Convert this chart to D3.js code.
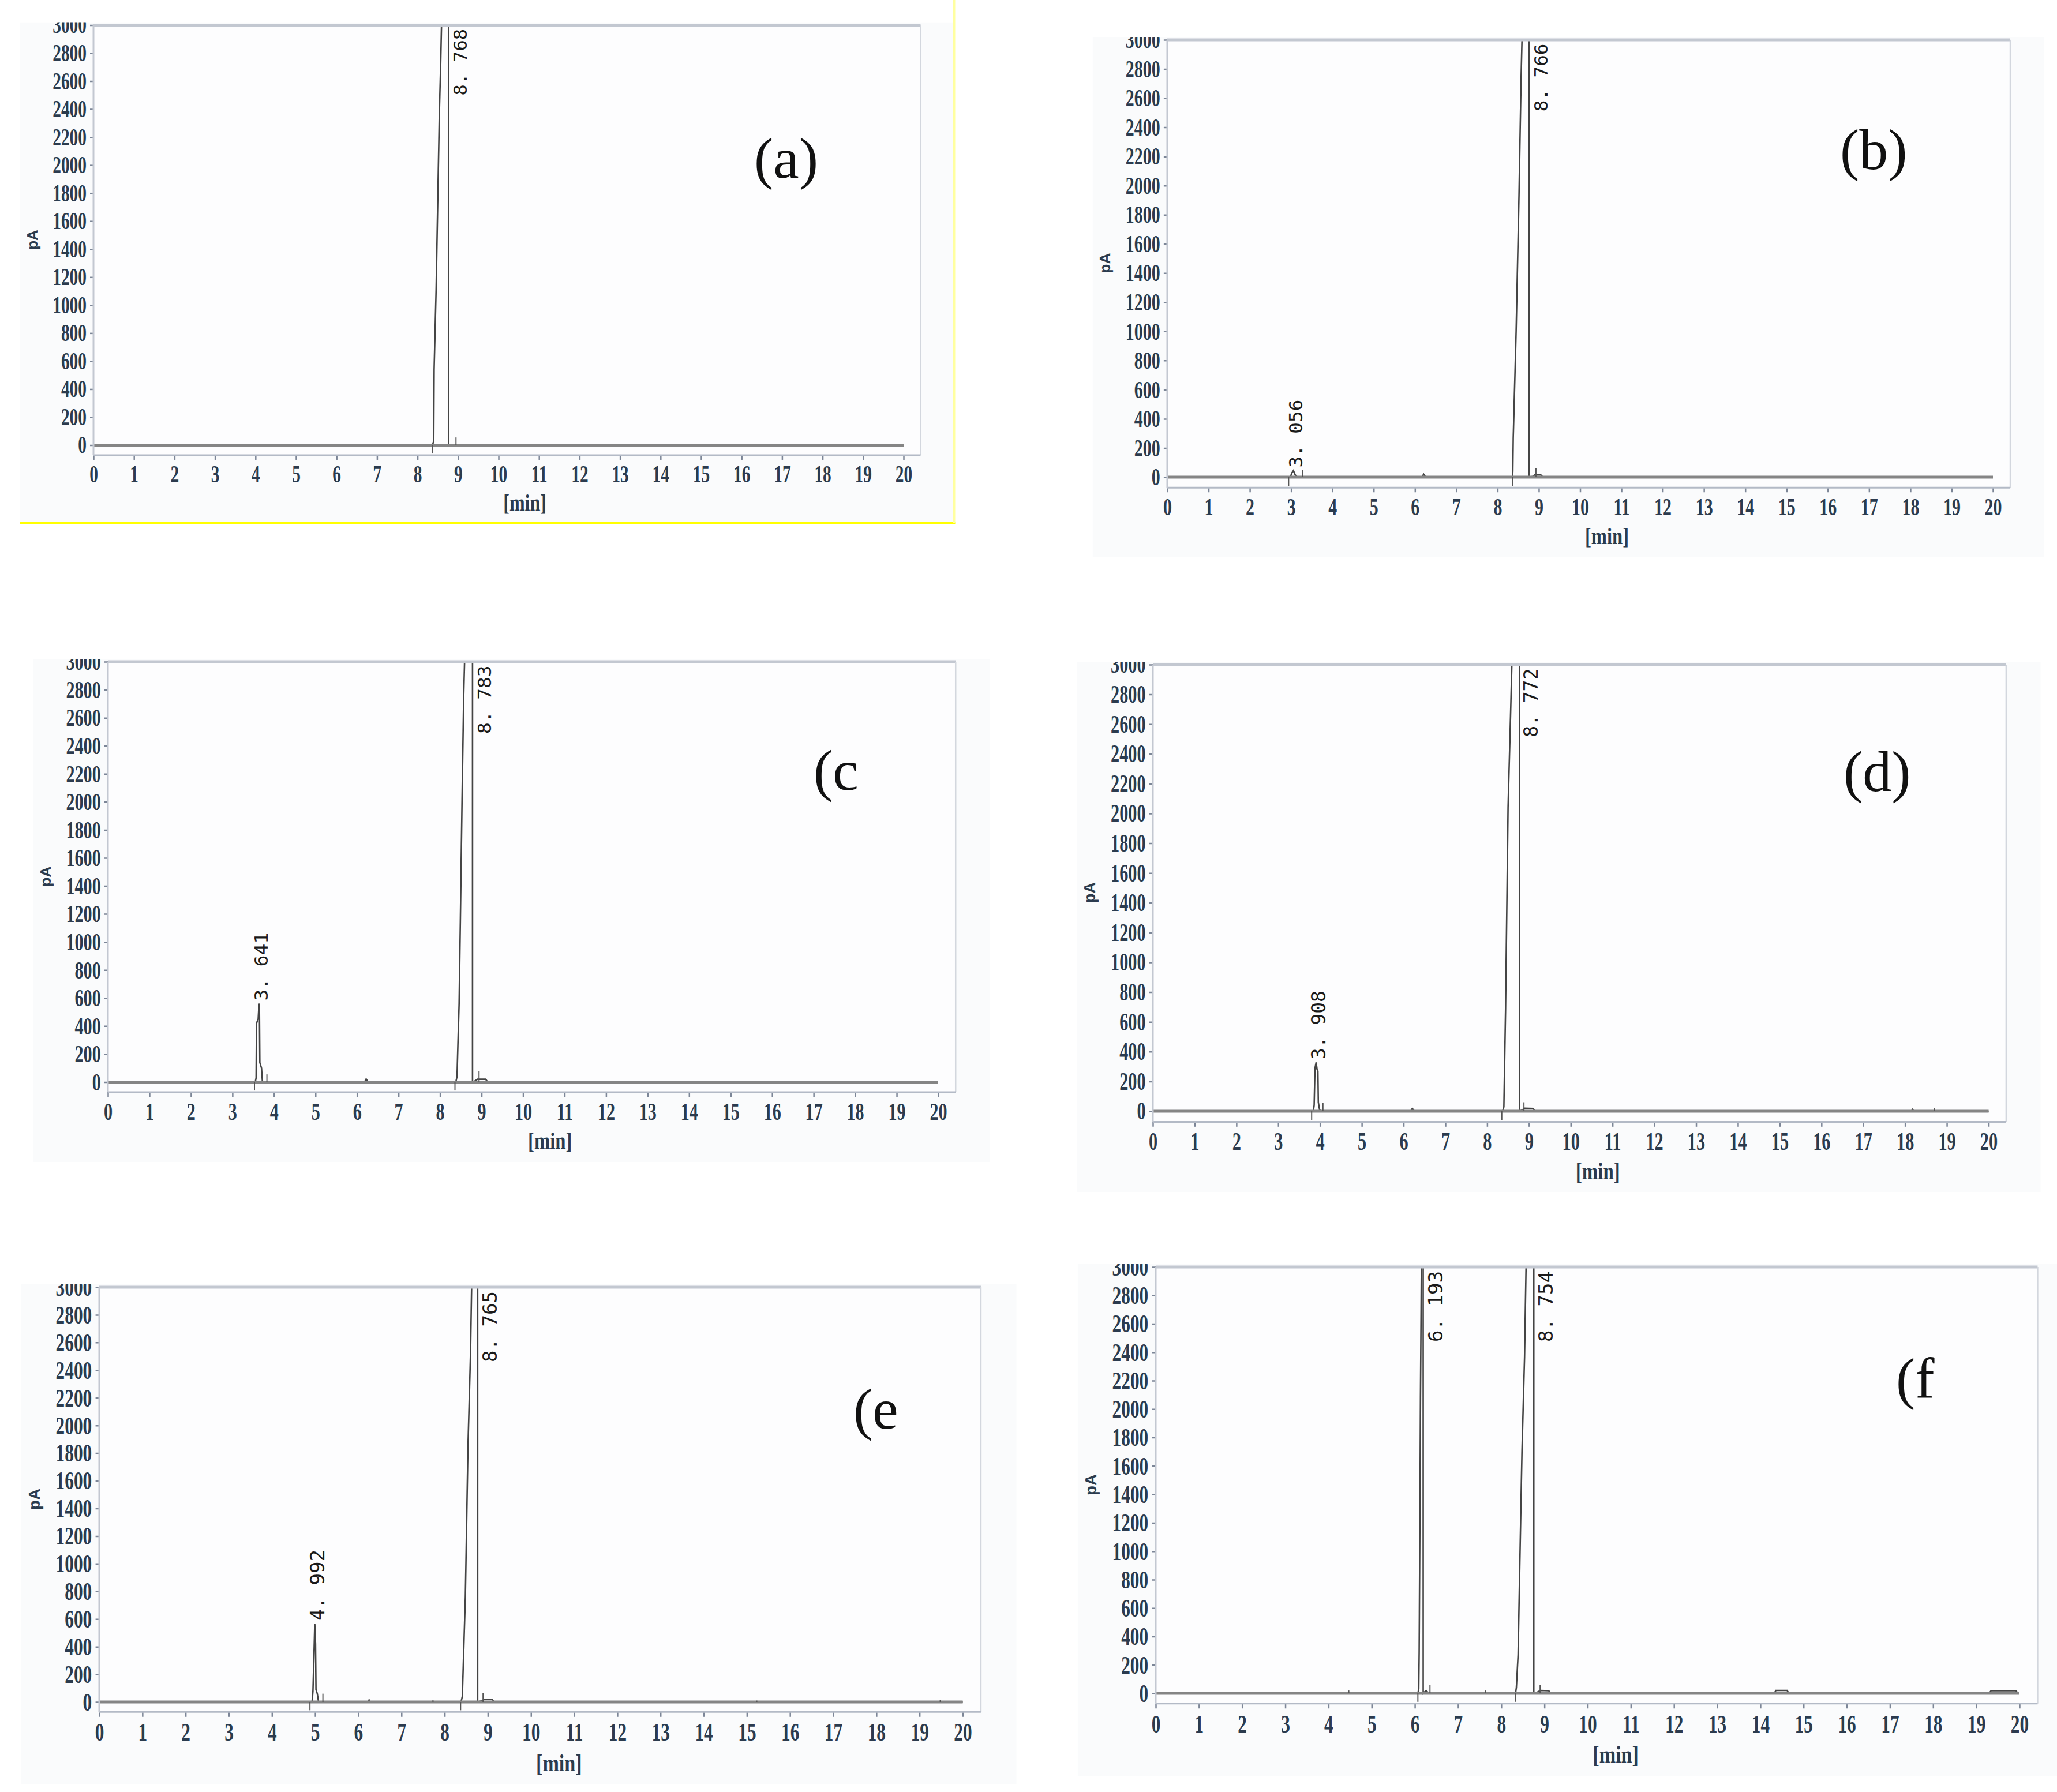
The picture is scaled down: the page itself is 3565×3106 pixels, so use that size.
<!DOCTYPE html>
<html>
<head>
<meta charset="utf-8">
<script src="https://cdn.jsdelivr.net/npm/d3@7/dist/d3.min.js"></script>
<style>
  body { margin: 0; background: #fff; }
</style>
</head>
<body>
<div id="chart"></div>
<script>
// tick labels
var minutes = [0, 1, 2, 3, 4, 5, 6, 7, 8, 9, 10, 11, 12, 13, 14, 15, 16, 17, 18, 19, 20];
var pAticks = [0, 200, 400, 600, 800, 1000, 1200, 1400, 1600, 1800, 2000, 2200, 2400, 2600, 2800, 3000];
var panelNames = ["(a)", "(b)", "(c", "(d)", "(e", "(f"];

// chromatogram traces, [time (min), signal (pA)] -- 3400 means off scale
var traceA = [[0, 0], [8.37, 0], [8.40, 30], [8.41, 540], [8.46, 1120], [8.50, 1750], [8.54, 2380], [8.57, 2700],
  [8.60, 3100], [8.62, 3400], [8.768, 3400], [8.768, 0], [20, 0]];
var traceB = [[0, 0], [2.98, 0], [3.02, 30], [3.056, 45], [3.10, 15], [3.15, 0], [6.17, 0], [6.21, 20], [6.26, 0],
  [8.36, 0], [8.37, 40], [8.38, 268], [8.45, 1000], [8.52, 1937], [8.57, 2729], [8.60, 3100], [8.62, 3400],
  [8.766, 3400], [8.766, 0], [8.85, 5], [8.90, 15], [9.05, 15], [9.10, 0], [20, 0]];
var traceC = [[0, 0], [3.55, 0], [3.57, 30], [3.58, 420], [3.62, 450], [3.641, 560], [3.65, 540], [3.66, 140],
  [3.70, 100], [3.72, 10], [3.75, 0], [6.18, 0], [6.22, 22], [6.27, 0], [8.38, 0], [8.41, 40], [8.43, 260],
  [8.46, 560], [8.49, 1150], [8.53, 2000], [8.57, 2750], [8.60, 3100], [8.63, 3400], [8.783, 3400], [8.783, 0],
  [8.85, 10], [8.90, 20], [9.10, 20], [9.15, 0], [20, 0]];
var traceD = [[0, 0], [3.84, 0], [3.86, 40], [3.88, 290], [3.908, 328], [3.93, 280], [3.95, 270], [3.96, 60],
  [3.99, 10], [4.02, 0], [6.17, 0], [6.21, 18], [6.26, 0], [8.37, 0], [8.40, 30], [8.44, 680], [8.50, 2040],
  [8.56, 2660], [8.60, 3100], [8.63, 3400], [8.772, 3400], [8.772, 0], [8.85, 10], [8.90, 20], [9.10, 18],
  [9.15, 0], [18.15, 0], [18.18, 12], [18.21, 0], [20, 0]];
var traceE = [[0, 0], [4.93, 0], [4.95, 80], [4.97, 300], [4.992, 566], [5.01, 420], [5.02, 90], [5.05, 60],
  [5.08, 0], [6.22, 0], [6.25, 15], [6.28, 0], [8.38, 0], [8.41, 40], [8.48, 760], [8.54, 1840], [8.60, 2530],
  [8.63, 3100], [8.65, 3400], [8.765, 3400], [8.765, 0], [8.88, 10], [8.92, 20], [9.10, 20], [9.15, 0], [20, 0]];
var traceF = [[0, 0], [6.07, 0], [6.09, 30], [6.10, 300], [6.12, 1420], [6.13, 2080], [6.16, 3400], [6.193, 3400],
  [6.193, 0], [6.26, 20], [6.32, 0], [8.33, 0], [8.35, 40], [8.39, 270], [8.48, 1700], [8.54, 2370], [8.58, 3100],
  [8.60, 3400], [8.754, 3400], [8.754, 0], [8.85, 10], [8.90, 20], [9.10, 18], [9.15, 0], [14.32, 0], [14.36, 20],
  [14.62, 20], [14.66, 0], [19.30, 0], [19.34, 18], [19.92, 18], [19.96, 0], [20, 0]];
var traces = [traceA, traceB, traceC, traceD, traceE, traceF];

// labelled peaks, [retention time, apex pA]
var peaks = [
  [[8.768, 3400]],
  [[3.056, 45], [8.766, 3400]],
  [[3.641, 560], [8.783, 3400]],
  [[3.908, 328], [8.772, 3400]],
  [[4.992, 566], [8.765, 3400]],
  [[6.193, 3400], [8.754, 3400]]
];

// integration marks: start (below baseline) and end [time, pA]
var startMarks = [[8.37], [2.94, 8.36], [3.53, 8.36], [3.80, 8.35], [4.88, 8.37], [6.07, 8.33]];
var endMarks = [
  [[8.95, 55]],
  [[3.28, 50], [8.93, 60]],
  [[3.83, 55], [8.94, 80]],
  [[4.07, 55], [8.88, 60], [18.7, 20]],
  [[5.18, 60], [8.89, 66], [7.73, 12], [15.23, 10], [19.48, 12]],
  [[6.35, 60], [8.90, 60], [4.47, 20], [7.63, 20]]
];

var W = 3565, H = 3106;
var xMax = 20.42, yMin = -72;

// where each screenshot sits on the page
var layout = [
  {left: 162, top: 43.5, x20: 1566, y0: 771.5, lab: [1307, 308]},
  {left: 2023, top: 69, x20: 3454, y0: 827, lab: [3189, 293]},
  {left: 187, top: 1147, x20: 1626, y0: 1875.5, lab: [1410, 1369]},
  {left: 1998, top: 1152, x20: 3446.5, y0: 1926, lab: [3195, 1371]},
  {left: 172, top: 2231, x20: 1668.5, y0: 2950, lab: [1479, 2476]},
  {left: 2003, top: 2196, x20: 3500, y0: 2935, lab: [3286, 2423]}
];

var tickColor = "#2b3b4e";
var fmt = d3.format(".3f");

var svg = d3.select("#chart").append("svg")
  .attr("width", W)
  .attr("height", H)
  .style("background", "#fff");

var defs = svg.append("defs");

layout.forEach(function(L, i) {
  var k = (L.x20 - L.left) / 1404;
  var x = d3.scaleLinear().domain([0, 20]).range([L.left, L.x20]);
  var y = d3.scaleLinear().domain([0, 3000]).range([L.y0, L.top]);
  var right = x(xMax), bottom = y(yMin);

  var bx0 = L.left - 127 * k, by0 = L.top - 5, bx1 = right + 58 * k, by1 = bottom + 118 * k;

  defs.append("clipPath").attr("id", "panel" + i).append("rect")
    .attr("x", bx0).attr("y", by0).attr("width", bx1 - bx0).attr("height", by1 - by0);
  defs.append("clipPath").attr("id", "plot" + i).append("rect")
    .attr("x", L.left).attr("y", y(3000)).attr("width", right - L.left).attr("height", bottom - y(3000));

  var g = svg.append("g").attr("clip-path", "url(#panel" + i + ")");

  // screenshot background
  g.append("rect")
    .attr("x", bx0).attr("y", by0)
    .attr("width", bx1 - bx0).attr("height", by1 - by0)
    .attr("fill", "#fafbfc");
  g.append("rect")
    .attr("x", L.left).attr("y", y(3000))
    .attr("width", right - L.left).attr("height", bottom - y(3000))
    .attr("fill", "#fdfdfe");

  // axes
  var xAxis = d3.axisBottom(x).tickValues(minutes).tickFormat(d3.format("d"))
    .tickSize(8 * k).tickPadding(9 * k).tickSizeOuter(0);
  var yAxis = d3.axisLeft(y).tickValues(pAticks).tickFormat(d3.format("d"))
    .tickSize(6 * k).tickPadding(6 * k).tickSizeOuter(0);

  var gx = g.append("g").attr("transform", "translate(0," + bottom + ")").call(xAxis);
  var gy = g.append("g").attr("transform", "translate(" + L.left + ",0)").call(yAxis);
  [gx, gy].forEach(function(a) {
    a.select(".domain").remove();
    a.selectAll(".tick line").attr("stroke", "#7c8697").attr("stroke-width", 2.5);
    a.selectAll(".tick text")
      .attr("fill", tickColor)
      .style("font-family", "'Liberation Serif', 'DejaVu Serif', serif")
      .style("font-weight", "bold")
      .style("font-size", (42 * k) + "px")
      .attr("transform", "scale(0.70,1)");
  });
  gy.selectAll(".tick text").attr("x", -12 * k / 0.70);

  // trace
  var line = d3.line()
    .x(function(d) { return x(d[0]); })
    .y(function(d) { return y(d[1]); });

  g.append("path")
    .datum(traces[i])
    .attr("clip-path", "url(#plot" + i + ")")
    .attr("d", line)
    .attr("fill", "none")
    .attr("stroke", "#444")
    .attr("stroke-width", 2.6);

  // baseline drawn heavier
  g.append("line")
    .attr("x1", x(0)).attr("x2", x(20))
    .attr("y1", y(0)).attr("y2", y(0))
    .attr("stroke", "#858585")
    .attr("stroke-width", 5);

  // integration marks
  g.selectAll(".smark").data(startMarks[i]).enter().append("line")
    .attr("x1", function(d) { return x(d); }).attr("x2", function(d) { return x(d); })
    .attr("y1", y(0)).attr("y2", y(-60))
    .attr("stroke", "#555").attr("stroke-width", 2);
  g.selectAll(".emark").data(endMarks[i]).enter().append("line")
    .attr("x1", function(d) { return x(d[0]); }).attr("x2", function(d) { return x(d[0]); })
    .attr("y1", y(0)).attr("y2", function(d) { return y(d[1]); })
    .attr("stroke", "#555").attr("stroke-width", 2);

  // frame
  g.append("line").attr("x1", L.left).attr("x2", right).attr("y1", y(3000)).attr("y2", y(3000))
    .attr("stroke", "#c3c8d1").attr("stroke-width", 5);
  g.append("line").attr("x1", right).attr("x2", right).attr("y1", y(3000)).attr("y2", bottom)
    .attr("stroke", "#d3d7de").attr("stroke-width", 2.5);
  g.append("line").attr("x1", L.left).attr("x2", right).attr("y1", bottom).attr("y2", bottom)
    .attr("stroke", "#b3bac6").attr("stroke-width", 3);
  g.append("line").attr("x1", L.left).attr("x2", L.left).attr("y1", y(3000)).attr("y2", bottom)
    .attr("stroke", "#c3c8d1").attr("stroke-width", 3);

  // peak retention-time labels
  g.selectAll(".plabel").data(peaks[i]).enter().append("text")
    .attr("transform", function(d) {
      var off = d[1] >= 3000;
      var px = x(d[0]) + (off ? 31 : 15) * k;
      var py = off ? y(3000) + 122 * k : y(d[1]) - 5 * k;
      return "translate(" + px + "," + py + ") rotate(-90)";
    })
    .attr("text-anchor", "start")
    .style("font-family", "'DejaVu Sans Mono', 'Liberation Mono', monospace")
    .style("font-size", (32 * k) + "px")
    .attr("fill", "#1a1a1a")
    .text(function(d) { return fmt(d[0]).replace(".", ". "); });

  // axis titles
  g.append("text")
    .attr("transform", "translate(" + x(10.65) + "," + (bottom + 96 * k) + ") scale(0.8,1)")
    .attr("text-anchor", "middle")
    .style("font-family", "'Liberation Serif', serif")
    .style("font-weight", "bold")
    .style("font-size", (40 * k) + "px")
    .attr("fill", tickColor)
    .text("[min]");

  g.append("text")
    .attr("transform", "translate(" + (L.left - 97 * k) + "," + ((L.top + L.y0) / 2 + 8) + ") rotate(-90)")
    .attr("text-anchor", "middle")
    .style("font-family", "'Liberation Sans', sans-serif")
    .style("font-weight", "bold")
    .style("font-size", (26 * k) + "px")
    .attr("fill", tickColor)
    .text("pA");

  // panel letter
  g.append("text")
    .attr("x", L.lab[0]).attr("y", L.lab[1])
    .style("font-family", "'Liberation Serif', 'Times New Roman', serif")
    .style("font-size", "100px")
    .attr("fill", "#111")
    .text(panelNames[i]);

  // yellow selection border around the first screenshot
  if (i === 0) {
    svg.append("line").attr("x1", bx0).attr("x2", bx1 + 2).attr("y1", by1).attr("y2", by1)
      .attr("stroke", "#ffff00").attr("stroke-width", 4);
    svg.append("line").attr("x1", bx1).attr("x2", bx1).attr("y1", 0).attr("y2", by1)
      .attr("stroke", "#ffffa0").attr("stroke-width", 4);
  }
});
</script>
</body>
</html>
